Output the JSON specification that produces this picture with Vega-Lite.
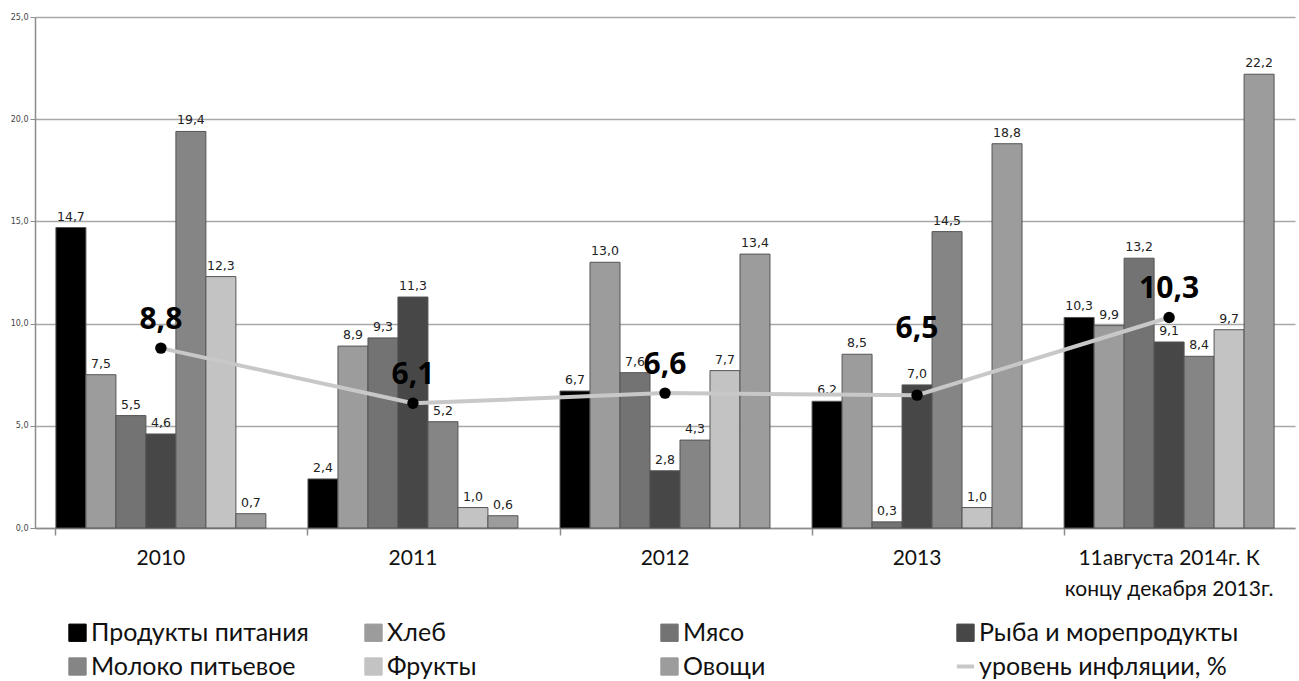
{
  "$schema": "https://vega.github.io/schema/vega-lite/v6.json",
  "width": 1260,
  "height": 511,
  "autosize": {"type": "none"},
  "padding": {"left": 35, "top": 17, "right": 4, "bottom": 153},
  "background": "white",
  "config": {
    "view": {"stroke": null},
    "locale": {"number": {"decimal": ",", "thousands": " ", "grouping": [3], "currency": ["", " ₽"]}}
  },
  "datasets": {
    "bars": [
      {"period": "2010", "item": "Продукты питания", "value": 14.7},
      {"period": "2010", "item": "Хлеб", "value": 7.5},
      {"period": "2010", "item": "Мясо", "value": 5.5},
      {"period": "2010", "item": "Рыба и морепродукты", "value": 4.6},
      {"period": "2010", "item": "Молоко питьевое", "value": 19.4},
      {"period": "2010", "item": "Фрукты", "value": 12.3},
      {"period": "2010", "item": "Овощи", "value": 0.7},
      {"period": "2011", "item": "Продукты питания", "value": 2.4},
      {"period": "2011", "item": "Хлеб", "value": 8.9},
      {"period": "2011", "item": "Мясо", "value": 9.3},
      {"period": "2011", "item": "Рыба и морепродукты", "value": 11.3},
      {"period": "2011", "item": "Молоко питьевое", "value": 5.2},
      {"period": "2011", "item": "Фрукты", "value": 1.0},
      {"period": "2011", "item": "Овощи", "value": 0.6},
      {"period": "2012", "item": "Продукты питания", "value": 6.7},
      {"period": "2012", "item": "Хлеб", "value": 13.0},
      {"period": "2012", "item": "Мясо", "value": 7.6},
      {"period": "2012", "item": "Рыба и морепродукты", "value": 2.8},
      {"period": "2012", "item": "Молоко питьевое", "value": 4.3},
      {"period": "2012", "item": "Фрукты", "value": 7.7},
      {"period": "2012", "item": "Овощи", "value": 13.4},
      {"period": "2013", "item": "Продукты питания", "value": 6.2},
      {"period": "2013", "item": "Хлеб", "value": 8.5},
      {"period": "2013", "item": "Мясо", "value": 0.3},
      {"period": "2013", "item": "Рыба и морепродукты", "value": 7.0},
      {"period": "2013", "item": "Молоко питьевое", "value": 14.5},
      {"period": "2013", "item": "Фрукты", "value": 1.0},
      {"period": "2013", "item": "Овощи", "value": 18.8},
      {"period": "11августа 2014г. К\nконцу декабря 2013г.", "item": "Продукты питания", "value": 10.3},
      {"period": "11августа 2014г. К\nконцу декабря 2013г.", "item": "Хлеб", "value": 9.9},
      {"period": "11августа 2014г. К\nконцу декабря 2013г.", "item": "Мясо", "value": 13.2},
      {"period": "11августа 2014г. К\nконцу декабря 2013г.", "item": "Рыба и морепродукты", "value": 9.1},
      {"period": "11августа 2014г. К\nконцу декабря 2013г.", "item": "Молоко питьевое", "value": 8.4},
      {"period": "11августа 2014г. К\nконцу декабря 2013г.", "item": "Фрукты", "value": 9.7},
      {"period": "11августа 2014г. К\nконцу декабря 2013г.", "item": "Овощи", "value": 22.2}
    ],
    "infl": [
      {"period": "2010", "value": 8.8},
      {"period": "2011", "value": 6.1},
      {"period": "2012", "value": 6.6},
      {"period": "2013", "value": 6.5},
      {"period": "11августа 2014г. К\nконцу декабря 2013г.", "value": 10.3}
    ]
  },
  "encoding": {
    "x": {
      "field": "period",
      "type": "nominal",
      "sort": ["2010", "2011", "2012", "2013", "11августа 2014г. К\nконцу декабря 2013г."],
      "scale": {"paddingInner": 0.167, "paddingOuter": 0.083},
      "axis": {
        "title": null,
        "labelAngle": 0,
        "labelFont": "Lato",
        "labelFontSize": 21,
        "labelColor": "#111111",
        "labelPadding": 12,
        "labelLineHeight": 31,
        "labelBaseline": "top",
        "labelLimit": 400,
        "labelExpr": "split(datum.label, '\\n')",
        "bandPosition": 0,
        "tickColor": "#8c8c8c",
        "tickSize": 7,
        "tickWidth": 1.5,
        "domainColor": "#8c8c8c",
        "domainWidth": 1.5,
        "grid": false
      }
    },
    "y": {
      "field": "value",
      "type": "quantitative",
      "scale": {"domain": [0, 25], "nice": false},
      "axis": {
        "title": null,
        "values": [0, 5, 10, 15, 20, 25],
        "format": ".1f",
        "labelFont": "DejaVu Sans",
        "labelFontSize": 8,
        "labelColor": "#444444",
        "labelPadding": 2,
        "tickSize": 5,
        "tickColor": "#8c8c8c",
        "domainColor": "#8c8c8c",
        "domainWidth": 1.5,
        "gridColor": "#a8a8a8",
        "gridWidth": 1.5
      }
    }
  },
  "layer": [
    {
      "data": {"name": "bars"},
      "mark": {"type": "bar", "stroke": "#555555", "strokeWidth": 1},
      "encoding": {
        "xOffset": {
          "field": "item",
          "type": "nominal",
          "sort": ["Продукты питания", "Хлеб", "Мясо", "Рыба и морепродукты", "Молоко питьевое", "Фрукты", "Овощи"],
          "scale": {"paddingInner": 0, "paddingOuter": 0}
        },
        "color": {
          "field": "item",
          "type": "nominal",
          "scale": {
            "domain": ["Продукты питания", "Хлеб", "Мясо", "Рыба и морепродукты", "Молоко питьевое", "Фрукты", "Овощи", "уровень инфляции, %"],
            "range": ["#000000", "#9c9c9c", "#737373", "#474747", "#858585", "#c3c3c3", "#9c9c9c", "#c8c8c8"]
          },
          "legend": {
            "title": null,
            "orient": "none",
            "legendX": 30,
            "legendY": 603,
            "direction": "horizontal",
            "columns": 4,
            "gridAlign": "all",
            "columnPadding": 5,
            "rowPadding": 8,
            "symbolType": "square",
            "symbolSize": 300,
            "symbolStrokeColor": "#555555",
            "symbolStrokeWidth": 1,
            "labelFont": "Lato",
            "labelFontSize": 25,
            "labelColor": "#111111",
            "labelOffset": 1,
            "labelLimit": 400,
            "encode": {
              "symbols": {
                "update": {
                  "shape": {"signal": "datum.value === 'уровень инфляции, %' ? 'stroke' : 'square'"},
                  "stroke": {"signal": "datum.value === 'уровень инфляции, %' ? '#c8c8c8' : '#555555'"},
                  "strokeWidth": {"signal": "datum.value === 'уровень инфляции, %' ? 4 : 1"}
                }
              }
            }
          }
        }
      }
    },
    {
      "data": {"name": "bars"},
      "mark": {"type": "text", "baseline": "bottom", "dy": -4, "font": "DejaVu Sans", "fontSize": 12.5, "color": "#222222"},
      "encoding": {
        "xOffset": {
          "field": "item",
          "type": "nominal",
          "sort": ["Продукты питания", "Хлеб", "Мясо", "Рыба и морепродукты", "Молоко питьевое", "Фрукты", "Овощи"],
          "scale": {"paddingInner": 0, "paddingOuter": 0}
        },
        "text": {"field": "value", "type": "quantitative", "format": ".1f"}
      }
    },
    {
      "data": {"name": "infl"},
      "mark": {"type": "line", "strokeWidth": 4},
      "encoding": {
        "color": {"datum": "уровень инфляции, %"}
      }
    },
    {
      "data": {"name": "infl"},
      "mark": {"type": "point", "filled": true, "color": "#000000", "size": 130, "opacity": 1},
      "encoding": {}
    },
    {
      "data": {"name": "infl"},
      "mark": {
        "type": "text",
        "baseline": "alphabetic",
        "dy": {"expr": "datum.period === '2013' ? -57 : -19"},
        "font": "Open Sans",
        "fontWeight": "bold",
        "fontSize": 30,
        "color": "#000000"
      },
      "encoding": {
        "text": {"field": "value", "type": "quantitative", "format": ".1f"}
      }
    }
  ]
}
